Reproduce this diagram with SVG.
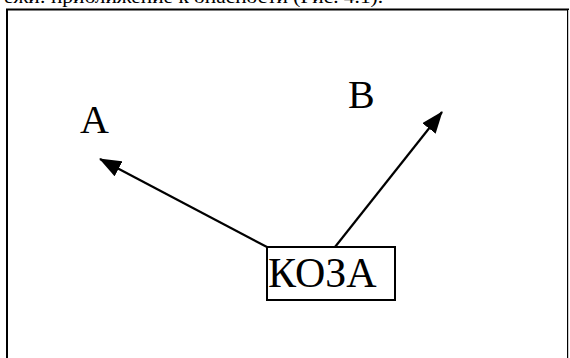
<svg xmlns="http://www.w3.org/2000/svg" width="570" height="358" viewBox="0 0 570 358">
  <style>
    .lbl { font-family: "Liberation Serif", "Times New Roman", serif; font-size: 40px; fill: #000; }
    .big { font-size: 42px; }
    .cap { font-family: "Liberation Serif", "Times New Roman", serif; font-size: 19px; fill: #000; }
    .edge { stroke: #000; stroke-width: 2.2; fill: none; marker-end: url(#head); }
  </style>
  <defs>
    <marker id="head" viewBox="0 0 22 17" refX="21" refY="8.5" markerWidth="22" markerHeight="17" markerUnits="userSpaceOnUse" orient="auto">
      <path d="M0,0 L22,8.5 L0,17 Z" fill="#000"/>
    </marker>
  </defs>
  <rect width="570" height="358" fill="#fff"/>
  <!-- caption line above the frame -->
  <text class="cap" x="4" y="3" textLength="379" lengthAdjust="spacingAndGlyphs">ежи: приближение к опасности (Рис. 4.1).</text>
  <!-- frame -->
  <rect x="7" y="9.5" width="561" height="360" fill="none" stroke="#000" stroke-width="2"/>
  <line x1="568.5" y1="10" x2="568.5" y2="358" stroke="#ccc" stroke-width="1"/>

  <g id="connectors">
    <line class="edge" x1="267" y1="247" x2="100" y2="159"/>
    <line class="edge" x1="335" y1="247" x2="442" y2="112"/>
  </g>

  <g id="node-a">
    <text class="lbl" x="80" y="133">A</text>
  </g>
  <g id="node-b">
    <text class="lbl" x="348" y="108">B</text>
  </g>
  <g id="node-koza">
    <rect x="267" y="247" width="128" height="53" fill="#fff" stroke="#000" stroke-width="2"/>
    <text class="lbl big" x="268" y="287">КОЗА</text>
  </g>
</svg>
